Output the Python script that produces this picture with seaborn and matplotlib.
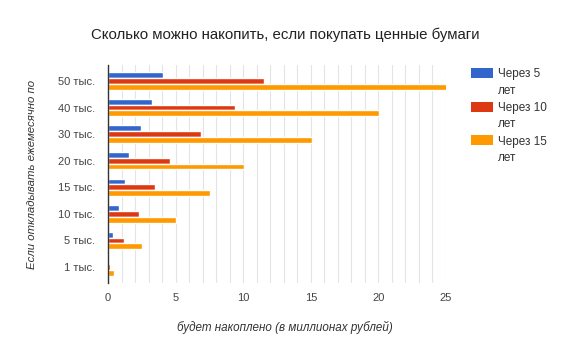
import matplotlib
matplotlib.use("Agg")
import matplotlib.pyplot as plt
import seaborn as sns
import pandas as pd
from matplotlib.patches import Rectangle
from matplotlib.ticker import MultipleLocator

categories = ["50 тыс.", "40 тыс.", "30 тыс.", "20 тыс.", "15 тыс.", "10 тыс.", "5 тыс.", "1 тыс."]
series_names = ["Через 5 лет", "Через 10 лет", "Через 15 лет"]
legend_labels = ["Через 5\nлет", "Через 10\nлет", "Через 15\nлет"]
years5 = [4.07, 3.26, 2.42, 1.58, 1.23, 0.81, 0.37, 0.07]
years10 = [11.53, 9.36, 6.91, 4.59, 3.46, 2.27, 1.16, 0.17]
years15 = [25.1, 20.07, 15.06, 10.05, 7.53, 5.01, 2.49, 0.47]
colors = ["#3366cc", "#dc3912", "#ff9900"]
x_ticks = [0, 5, 10, 15, 20, 25]

rows = []
for name, vals in zip(series_names, [years5, years10, years15]):
    for c, v in zip(categories, vals):
        rows.append({"cat": c, "series": name, "value": v})
df = pd.DataFrame(rows)

sns.set_theme(style="white")
plt.rcParams["font.family"] = ["Liberation Sans", "DejaVu Sans"]

fig = plt.figure(figsize=(5.67, 3.51), dpi=100)
ax = fig.add_axes([108 / 567, 68 / 351, 338 / 567, 218 / 351])

sns.barplot(data=df, y="cat", x="value", hue="series", order=categories,
            hue_order=series_names, palette=colors, orient="h", width=0.66,
            saturation=1, ax=ax, legend=False, zorder=3)

ax.set_xlim(0, 25)
ax.set_ylim(7.6, -0.6)
ax.xaxis.set_major_locator(MultipleLocator(5))
ax.xaxis.set_minor_locator(MultipleLocator(1))
ax.grid(True, axis="x", which="both", color="#e4e4e4", linewidth=0.8, zorder=0)
ax.set_axisbelow(True)
for s in ["top", "right", "bottom"]:
    ax.spines[s].set_visible(False)
ax.spines["left"].set_color("#333333")
ax.spines["left"].set_linewidth(1.0)
ax.spines["left"].set_zorder(5)

ax.set_xticks(x_ticks)
ax.tick_params(axis="x", which="both", length=0, pad=7, labelsize=8, labelcolor="#444444")
ax.tick_params(axis="y", length=0, pad=9, labelsize=8, labelcolor="#444444")

ax.set_xlabel("будет накоплено (в миллионах рублей)", fontsize=8.4, style="italic",
              color="#333333")
ax.xaxis.set_label_coords(0.524, -0.172)
ax.set_ylabel("Если откладывать ежемесячно по", fontsize=8.2, style="italic",
              color="#333333", labelpad=15)

fig.text(0.503, 0.90, "Сколько можно накопить, если покупать ценные бумаги",
         ha="center", va="center", fontsize=10.8, color="#222222")

# legend
for i, (lab, col) in enumerate(zip(legend_labels, colors)):
    ytop = 68 + i * 33.5
    fig.add_artist(Rectangle((471 / 567, 1 - (ytop + 10) / 351), 22 / 567, 10 / 351,
                             transform=fig.transFigure, facecolor=col, edgecolor="none"))
    fig.text(498 / 567, 1 - (ytop + 0.5) / 351, lab, ha="left", va="top",
             fontsize=8.5, color="#333333", linespacing=1.45,
             transform=fig.transFigure)

fig.savefig("out.png", dpi=100)
